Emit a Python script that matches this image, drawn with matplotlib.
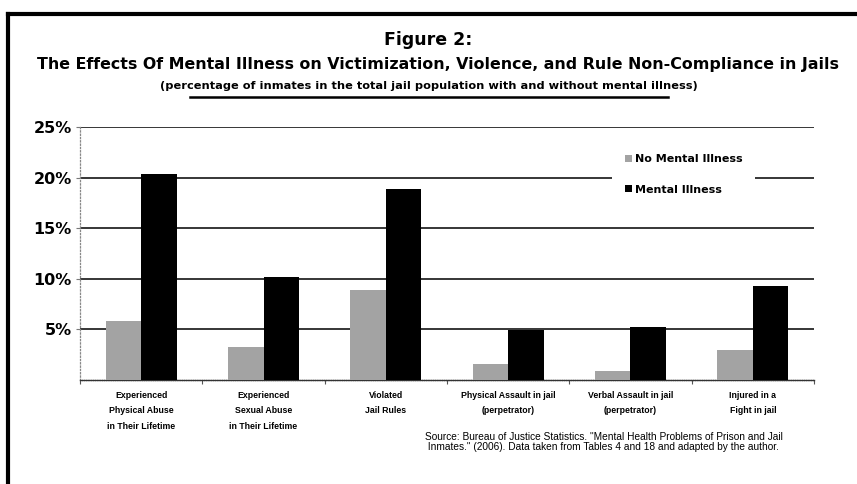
import matplotlib
matplotlib.use("Agg")
import matplotlib.pyplot as plt
from matplotlib.lines import Line2D
from matplotlib.patches import Rectangle
import numpy as np

categories = [
    "Experienced\nPhysical Abuse\nin Their Lifetime",
    "Experienced\nSexual Abuse\nin Their Lifetime",
    "Violated\nJail Rules",
    "Physical Assault in jail\n(perpetrator)",
    "Verbal Assault in jail\n(perpetrator)",
    "Injured in a\nFight in jail",
]
no_mental = [5.8, 3.3, 8.9, 1.6, 0.9, 3.0]
mental = [20.4, 10.2, 18.9, 4.9, 5.2, 9.3]
series_labels = ["No Mental Illness", "Mental Illness"]
yticks = [5, 10, 15, 20, 25]
ytick_labels = ["5%", "10%", "15%", "20%", "25%"]

plt.rcParams['font.family'] = ['Liberation Sans', 'DejaVu Sans']
NARROW = ['Liberation Sans', 'DejaVu Sans']
WIDE = ['DejaVu Sans']

fig = plt.figure(figsize=(8.57, 4.84), dpi=100)
ax = fig.add_axes([80/857, 1-380/484, (814-80)/857, (380-127)/484])

x = np.arange(len(categories))
w = 0.29
ax.bar(x - w/2, no_mental, width=w, color='#a3a3a3', linewidth=0, zorder=3, label=series_labels[0])
ax.bar(x + w/2, mental, width=w, color='black', linewidth=0, zorder=3, label=series_labels[1])

ax.set_xlim(-0.5, len(categories) - 0.5)
ax.set_ylim(0, 25)
ax.set_yticks(yticks)
ax.set_yticklabels(ytick_labels, fontsize=11.5, fontweight='bold', family=WIDE)
for yv in yticks:
    ax.axhline(yv, color='black', lw=1.1, zorder=1)

ax.set_xticks(x)
ax.set_xticklabels(categories, fontsize=6.3, fontweight='bold', linespacing=1.9, family=NARROW)
ax.tick_params(axis='x', which='major', length=0, pad=8)
ax.set_xticks(np.arange(-0.5, len(categories)), minor=True)
ax.tick_params(axis='x', which='minor', length=3, color='#555555', width=0.8)
ax.tick_params(axis='y', length=3, color='#777777', width=0.8, pad=3)

for s in ['top', 'right']:
    ax.spines[s].set_visible(False)
ax.spines['left'].set_color('#888888')
ax.spines['left'].set_linestyle(':')
ax.spines['left'].set_linewidth(0.9)
ax.spines['bottom'].set_color('#333333')
ax.spines['bottom'].set_linestyle((0, (1, 0.6)))
ax.spines['bottom'].set_linewidth(1.0)

# white background behind legend (interrupts the 20% gridline)
ax.add_patch(Rectangle((612/857, 1-205/484), (755-612)/857, 60/484, transform=fig.transFigure,
                       facecolor='white', edgecolor='none', zorder=2))

leg = ax.legend(loc='upper left', bbox_to_anchor=(625/857, 1-154/484), bbox_transform=fig.transFigure,
                frameon=False, prop={'weight': 'bold', 'size': 8, 'family': WIDE},
                handlelength=0.6, handleheight=0.6, handletextpad=0.3, labelspacing=1.85,
                borderpad=0, borderaxespad=0)
leg.set_zorder(5)

fig.text(0.5, 1-40/484, "Figure 2:", ha='center', va='center', fontsize=12.5, fontweight='bold', family=WIDE)
fig.text(438/857, 1-64/484, "The Effects Of Mental Illness on Victimization, Violence, and Rule Non-Compliance in Jails",
         ha='center', va='center', fontsize=11.4, fontweight='bold', family=WIDE)
fig.text(0.5, 1-86/484, "(percentage of inmates in the total jail population with and without mental illness)",
         ha='center', va='center', fontsize=8.2, fontweight='bold', family=WIDE)
fig.add_artist(Line2D([190/857, 668/857], [1-97/484, 1-97/484], color='black', lw=1.8))

fig.text(425/857, 1-442/484,
         "Source: Bureau of Justice Statistics. \"Mental Health Problems of Prison and Jail\n"
         " Inmates.\" (2006). Data taken from Tables 4 and 18 and adapted by the author.",
         ha='left', va='center', fontsize=7.3, linespacing=1.0, family=NARROW)

# outer border (top and left)
fig.add_artist(Line2D([8/857, 1.0], [1-14/484, 1-14/484], color='black', lw=3))
fig.add_artist(Line2D([8/857, 8/857], [0, 1-14/484], color='black', lw=3))

fig.savefig("out.png", dpi=100)
